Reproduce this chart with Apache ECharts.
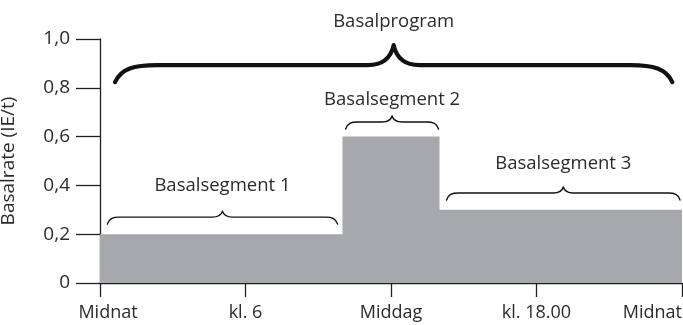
<!DOCTYPE html>
<html>
<head>
<meta charset="utf-8">
<script src="https://cdn.jsdelivr.net/npm/echarts@6/dist/echarts.min.js"></script>
<style>
html,body{margin:0;padding:0;background:#fff;}
#chart{width:683px;height:325px;}
</style>
</head>
<body>
<div id="chart"></div>
<script>
// ---- data ----
const segmentStart = [0, 10, 14];          // hours
const segmentEnd = [10, 14, 24];           // hours
const basalRate = [0.2, 0.6, 0.3];         // IE/t
const xTickValues = [0, 6, 12, 18, 24];
const xTickLabels = ['Midnat', 'kl. 6', 'Middag', 'kl. 18.00', 'Midnat'];
const yTickValues = [0, 0.2, 0.4, 0.6, 0.8, 1.0];
const braceText = ['Basalprogram', 'Basalsegment 1', 'Basalsegment 2', 'Basalsegment 3'];
const braceStart = [0.62, 0.3, 10.13, 14.29];
const braceEnd = [23.6, 9.8, 13.96, 23.92];
const braceLevel = [0.893, 0.27, 0.66, 0.369];
const textLevel = [1.07, 0.40, 0.75, 0.49];

// ---- build ----
const stepData = [];
for (let i = 0; i < basalRate.length; i++) stepData.push([segmentStart[i], basalRate[i]]);
stepData.push([segmentEnd[segmentEnd.length - 1], basalRate[basalRate.length - 1]]);

const braceData = braceText.map((t, i) => [braceStart[i], braceEnd[i], braceLevel[i], textLevel[i], t, i === 0 ? 1 : 0]);

const FONT = '"Open Sans", sans-serif';
const TXT = '#2b2b2b';

const chart = echarts.init(document.getElementById('chart'), null, {renderer: 'canvas'});
chart.setOption({
  animation: false,
  grid: {left: 100, right: 1, top: 39, bottom: 42, containLabel: false, outerBoundsMode: 'none'},
  xAxis: {
    type: 'value', min: 0, max: 24, interval: 6,
    axisLine: {show: true, lineStyle: {color: '#231f20', width: 1.3}},
    axisTick: {show: true, length: 14, lineStyle: {color: '#231f20', width: 1.3}},
    splitLine: {show: false},
    axisLabel: {
      margin: 21, fontSize: 18, color: TXT, fontFamily: FONT,
      alignMaxLabel: 'right',
      formatter: function (v) {
        const i = xTickValues.indexOf(v);
        const s = i >= 0 ? xTickLabels[i] : '';
        return v === 0 ? '{first|' + s + '}' : s;
      },
      rich: {first: {fontSize: 18, color: TXT, fontFamily: FONT, padding: [0, 0, 0, 16]}}
    }
  },
  yAxis: {
    type: 'value', min: 0, max: 1, interval: 0.2,
    name: 'Basalrate (IE/t)', nameLocation: 'middle', nameGap: 82, nameRotate: 90,
    nameTextStyle: {fontSize: 19, color: TXT, fontFamily: FONT},
    axisLine: {show: true, lineStyle: {color: '#231f20', width: 1.3}},
    axisTick: {show: true, length: 24, lineStyle: {color: '#231f20', width: 1.3}},
    splitLine: {show: false},
    axisLabel: {
      margin: 30, fontSize: 19, color: TXT, fontFamily: FONT,
      formatter: function (v) { return v === 0 ? '0' : v.toFixed(1).replace('.', ','); }
    }
  },
  series: [
    {
      type: 'line', step: 'end', data: stepData, symbol: 'none', z: 1,
      lineStyle: {width: 0}, areaStyle: {color: '#a7a8ab', opacity: 1}
    },
    {
      type: 'custom', data: braceData, clip: false, z: 5,
      renderItem: function (params, api) {
        const p1 = api.coord([api.value(0), api.value(2)]);
        const p2 = api.coord([api.value(1), api.value(2)]);
        const big = api.value(5) === 1;
        const y = p1[1];
        const x1 = p1[0], x2 = p2[0], xm = (x1 + x2) / 2;
        const d = big ? 17 : 7;      // end drop
        const u = big ? 20 : 6;      // tip rise
        const w = big ? 42 : 12;     // end curve width
        const t = big ? 26 : 10;     // tip curve width
        const path =
          'M' + x1 + ',' + (y + d) +
          ' C' + (x1 + w * 0.15) + ',' + (y + d * 0.2) + ' ' + (x1 + w * 0.45) + ',' + y + ' ' + (x1 + w) + ',' + y +
          ' L' + (xm - t) + ',' + y +
          ' C' + (xm - t * 0.4) + ',' + y + ' ' + (xm - t * 0.1) + ',' + (y - u * 0.4) + ' ' + xm + ',' + (y - u) +
          ' C' + (xm + t * 0.1) + ',' + (y - u * 0.4) + ' ' + (xm + t * 0.4) + ',' + y + ' ' + (xm + t) + ',' + y +
          ' L' + (x2 - w) + ',' + y +
          ' C' + (x2 - w * 0.45) + ',' + y + ' ' + (x2 - w * 0.15) + ',' + (y + d * 0.2) + ' ' + x2 + ',' + (y + d);
        const tp = api.coord([(api.value(0) + api.value(1)) / 2, api.value(3)]);
        return {
          type: 'group',
          children: [
            {type: 'path', shape: {pathData: path}, style: {fill: null, stroke: '#111', lineWidth: big ? 4.2 : 1.4, lineCap: 'round', lineJoin: 'round'}},
            {type: 'text', x: tp[0], y: tp[1], style: {text: api.value(4), fill: TXT, font: '18.5px ' + FONT, align: 'center', verticalAlign: 'middle'}}
          ]
        };
      }
    }
  ]
});
</script>
</body>
</html>
